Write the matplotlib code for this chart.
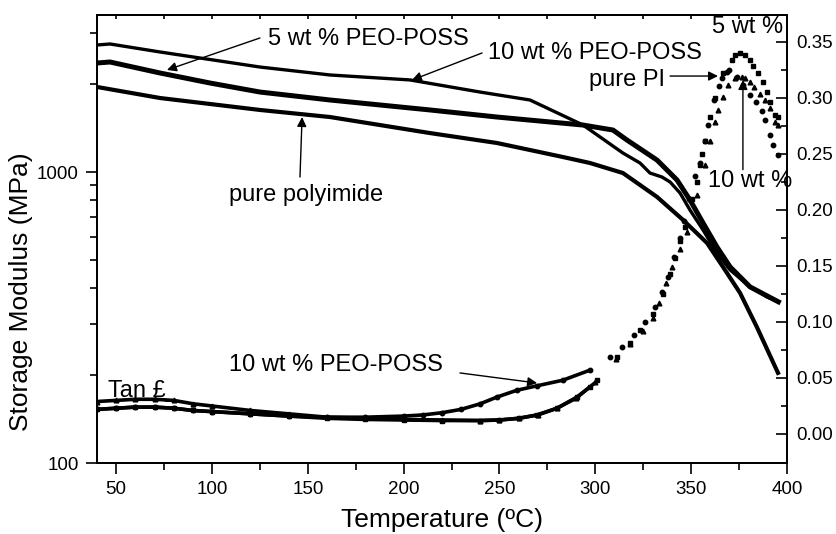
import numpy as np
import matplotlib
matplotlib.use("Agg")
import matplotlib.pyplot as plt
from matplotlib.ticker import FixedLocator, NullFormatter, FormatStrFormatter

plt.rcParams['font.family'] = ['Liberation Sans', 'DejaVu Sans']

# ---------- storage modulus (MPa) ----------
temp_10 = [40, 46.8, 72.9, 93.7, 125, 161.6, 203.3, 239.8, 265.9, 293.6, 314.4,
           323.3, 328.5, 334.8, 339, 344.2, 349.4, 356.2, 363.5, 370.3, 380.7,
           389.6, 395.5]
mod_10 = [2732, 2754, 2585, 2465, 2295, 2155, 2072, 1883, 1768, 1450, 1162,
          1074, 992, 961, 924, 847, 740, 632, 527, 461, 403, 372, 358]

temp_5 = [40, 46.8, 72.9, 99, 125, 161.6, 213.7, 248.7, 293.6, 309.2, 316.5,
          332.2, 342.6, 349.4, 356.2, 363.5, 370.3, 380.7, 395.5]
mod_5 = [2369, 2388, 2189, 2022, 1883, 1768, 1634, 1545, 1450, 1394, 1288,
         1099, 939, 801, 668, 552, 472, 403, 358]

temp_pi = [40, 72.9, 125, 161.6, 213.7, 248.7, 283.1, 297.2, 314.4, 332.2,
           345.8, 358.3, 366.6, 375.5, 384.3, 395.3]
mod_pi = [1960, 1796, 1634, 1545, 1361, 1258, 1126, 1074, 992, 821,
          684, 570, 472, 384, 293, 204]

# ---------- tan delta ----------
tan_t_sq = [40, 50, 60, 70, 80, 90, 100, 120, 140, 160, 180, 200, 220, 240, 250,
            260, 269.5, 280, 290.4, 297.2, 300.9, 311.3, 318, 323.3, 330, 335.3,
            339, 341.6, 344.2, 346.8, 350.5, 353, 354.6, 355.7, 357.2, 359.8,
            362.4, 366.6, 371.3, 372.9, 375.5, 378, 380.7, 382.3, 384.9, 387.5,
            389.6, 391.1, 393.7, 395.3]
tan_sq = [0.022, 0.023, 0.024, 0.024, 0.023, 0.021, 0.020, 0.018, 0.016, 0.014,
          0.013, 0.0125, 0.012, 0.012, 0.0125, 0.014, 0.017, 0.023, 0.033, 0.042,
          0.048, 0.069, 0.081, 0.093, 0.107, 0.125, 0.143, 0.157, 0.172, 0.185,
          0.210, 0.225, 0.240, 0.250, 0.262, 0.283, 0.300, 0.322, 0.334, 0.338,
          0.340, 0.338, 0.334, 0.329, 0.322, 0.314, 0.305, 0.296, 0.285, 0.283]

tan_t_ci = [40, 50, 60, 70, 80, 90, 100, 120, 140, 160, 180, 200, 210, 220, 230,
            240, 248.7, 259, 269.5, 283, 297.2, 307.6, 314, 320, 326, 331, 335,
            338, 341, 344, 346, 349, 352, 354.6, 357, 359, 362, 364.5, 366, 368.5,
            369.5, 374, 377, 380.7, 384, 387, 388.5, 391, 392.7, 395.3]
tan_ci = [0.022, 0.023, 0.024, 0.024, 0.023, 0.021, 0.020, 0.018, 0.016, 0.015,
          0.015, 0.016, 0.017, 0.019, 0.022, 0.027, 0.033, 0.039, 0.043, 0.048,
          0.057, 0.069, 0.078, 0.088, 0.100, 0.113, 0.127, 0.140, 0.158, 0.175,
          0.190, 0.210, 0.230, 0.242, 0.262, 0.276, 0.298, 0.311, 0.318, 0.323,
          0.325, 0.319, 0.312, 0.303, 0.296, 0.288, 0.280, 0.267, 0.258, 0.249]

tan_t_tr = [40, 50, 60, 70, 80, 90, 100, 120, 140, 160, 180, 200, 220, 240, 250,
            260, 270, 280, 290, 300, 311, 318, 325, 330, 333, 337, 340, 344, 347.8,
            353, 357, 360, 362.4, 364, 366.6, 369, 372.9, 376.5, 378, 380.7, 383,
            386, 388.5, 391, 393.7, 395.3]
tan_tr = [0.029, 0.030, 0.031, 0.031, 0.030, 0.027, 0.025, 0.021, 0.018, 0.015,
          0.014, 0.013, 0.0125, 0.012, 0.0125, 0.014, 0.017, 0.023, 0.032, 0.046,
          0.067, 0.080, 0.092, 0.104, 0.117, 0.135, 0.149, 0.165, 0.180, 0.213,
          0.240, 0.262, 0.279, 0.289, 0.301, 0.312, 0.318, 0.319, 0.318, 0.314,
          0.310, 0.304, 0.298, 0.291, 0.279, 0.276]

x_ticks = [50, 100, 150, 200, 250, 300, 350, 400]
x_minor = [75, 125, 175, 225, 275, 325, 375]
tan_ticks = [0.00, 0.05, 0.10, 0.15, 0.20, 0.25, 0.30, 0.35]


def draw_tan(ax, t, v, marker, ms):
    t = np.asarray(t)
    v = np.asarray(v)
    flat = t <= 300
    ax.plot(t[flat], v[flat], '-', color='black', lw=2.6, solid_capstyle='round')
    ax.plot(t, v, linestyle='none', marker=marker, ms=ms, color='black', mec='black')


fig = plt.figure(figsize=(8.37, 5.34), dpi=100)
ax = fig.add_axes([97 / 837, 71 / 534, 690 / 837, 448 / 534])
ax2 = ax.twinx()

ax.plot(temp_10, mod_10, color='black', lw=2.4)
ax.plot(temp_5, mod_5, color='black', lw=3.6)
ax.plot(temp_pi, mod_pi, color='black', lw=3.0)

draw_tan(ax2, tan_t_sq, tan_sq, 's', 3.2)
draw_tan(ax2, tan_t_ci, tan_ci, 'o', 3.2)
draw_tan(ax2, tan_t_tr, tan_tr, '^', 3.4)

ax.set_xlim(40, 400)
ax.set_yscale('log')
ax.set_ylim(100, 3464)
ax2.set_ylim(-0.0259, 0.3741)

# bottom / left ticks
ax.set_xticks(x_ticks)
ax.xaxis.set_minor_locator(FixedLocator(x_minor))
ax.set_yticks([100, 1000])
ax.set_yticklabels(['100', '1000'])
ax.yaxis.set_minor_locator(FixedLocator([200, 300, 400, 500, 600, 700, 800, 900, 2000, 3000]))
ax.yaxis.set_minor_formatter(NullFormatter())
ax.tick_params(axis='both', which='major', direction='out', length=8, width=1.2,
               labelsize=13.5, pad=5)
ax.tick_params(axis='both', which='minor', direction='out', length=5, width=1.2)

# short ticks along the top edge
top = ax.secondary_xaxis('top')
top.set_xticks(sorted(x_ticks + x_minor))
top.set_xticklabels([])
top.tick_params(direction='in', length=3, width=1.2)

# right axis (tan delta)
ax2.set_yticks(tan_ticks)
ax2.yaxis.set_major_formatter(FormatStrFormatter('%.2f'))
ax2.yaxis.set_minor_locator(FixedLocator(np.arange(0.025, 0.37, 0.05)))
ax2.tick_params(axis='y', which='major', direction='in', length=8, width=1.2,
                labelsize=13.5, pad=7)
ax2.tick_params(axis='y', which='minor', direction='in', length=4, width=1.2)

for a in (ax, ax2):
    for s in a.spines.values():
        s.set_linewidth(1.3)
top.spines['top'].set_linewidth(1.3)

ax.set_xlabel('Temperature (ºC)', fontsize=19, labelpad=7)
ax.set_ylabel('Storage Modulus (MPa)', fontsize=19)
ax.yaxis.set_label_coords(-0.093, 0.382)

# annotations
arrow = dict(arrowstyle='-|>', color='black', lw=1.0, mutation_scale=14,
             shrinkA=0, shrinkB=0)
ann = dict(xycoords='data', textcoords='data', arrowprops=arrow)

ax.annotate('', xy=(76.5, 2242), xytext=(125, 2888), **ann)
ax.text(129.2, 2864, '5 wt % PEO-POSS', fontsize=17, va='center', ha='left')

ax.annotate('', xy=(204.3, 2070), xytext=(240.9, 2565), **ann)
ax.text(244, 2565, '10 wt % PEO-POSS', fontsize=17, va='center', ha='left')

ax.annotate('', xy=(147, 1545), xytext=(145.9, 961), **ann)
ax.text(149, 834, 'pure polyimide', fontsize=17, va='center', ha='center')

ax2.annotate('', xy=(364, 0.3196), xytext=(339, 0.3196), **ann)
ax2.text(336.5, 0.316, 'pure PI', fontsize=17, va='center', ha='right')
ax2.text(379.6, 0.3634, '5 wt %', fontsize=17, va='center', ha='center')

ax2.annotate('', xy=(377, 0.316), xytext=(377, 0.236), **ann)
ax2.text(358.8, 0.226, '10 wt %', fontsize=17, va='center', ha='left')

ax2.annotate('', xy=(269.6, 0.0455), xytext=(229.4, 0.0545), **ann)
ax2.text(220.5, 0.0616, '10 wt % PEO-POSS', fontsize=17, va='center', ha='right')

ax2.text(46, 0.0385, 'Tan £_', fontsize=17, va='center', ha='left')

fig.savefig('out.png', dpi=100)
